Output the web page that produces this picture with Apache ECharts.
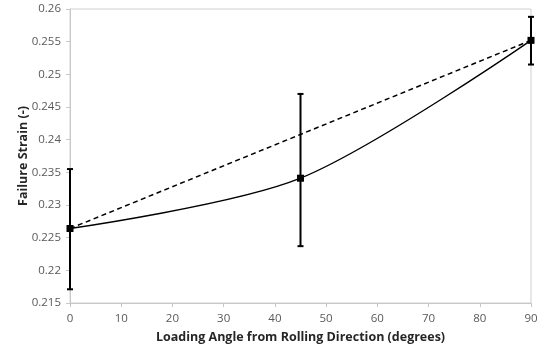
<!DOCTYPE html>
<html><head><meta charset="utf-8">
<script src="https://cdn.jsdelivr.net/npm/echarts@6/dist/echarts.min.js"></script>
<style>html,body{margin:0;padding:0;background:#fff}#c{width:541px;height:349px}</style>
</head><body><div id="c"></div>
<script>
const angles = [0, 45, 90];
const strain = [0.2264, 0.2341, 0.2552];
const errLow = [0.2171, 0.2237, 0.2515];
const errHigh = [0.2355, 0.2470, 0.2588];
const trendAngles = [0, 90];
const trendStrain = [0.2264, 0.2552];

const chart = echarts.init(document.getElementById('c'));
const font = '"Open Sans", "Liberation Sans", sans-serif';
chart.setOption({
  animation: false,
  grid: {left: 70, right: 10, top: 9, bottom: 46, show: true, borderColor: '#d0d0d0', borderWidth: 1},
  xAxis: {
    type: 'value', min: 0, max: 90, interval: 10,
    name: 'Loading Angle from Rolling Direction (degrees)', nameLocation: 'middle', nameGap: 28,
    nameTextStyle: {fontFamily: font, fontWeight: 'bold', fontSize: 12.5, color: '#262626'},
    axisLine: {show: true, lineStyle: {color: '#c8c8c8'}},
    axisTick: {show: true, length: 4, lineStyle: {color: '#c8c8c8'}},
    axisLabel: {fontFamily: font, fontSize: 11.5, color: '#595959', margin: 10},
    splitLine: {show: false}
  },
  yAxis: {
    type: 'value', min: 0.215, max: 0.26, interval: 0.005,
    name: 'Failure Strain (-)', nameLocation: 'middle', nameGap: 40, nameMoveOverlap: false,
    nameTextStyle: {fontFamily: font, fontWeight: 'bold', fontSize: 12.5, color: '#262626'},
    axisLine: {show: true, lineStyle: {color: '#c8c8c8'}},
    axisTick: {show: true, length: 4, lineStyle: {color: '#c8c8c8'}},
    axisLabel: {fontFamily: font, fontSize: 11.5, color: '#595959', margin: 9,
      formatter: v => String(parseFloat(v.toFixed(3)))},
    splitLine: {show: false}
  },
  series: [
    {
      type: 'line', data: trendAngles.map((a, i) => [a, trendStrain[i]]),
      symbol: 'none', lineStyle: {color: '#000', width: 1.5, type: [5, 3.5]}, z: 2
    },
    {
      type: 'line', data: angles.map((a, i) => [a, strain[i]]), smooth: 0.3,
      symbol: 'rect', symbolSize: 7, itemStyle: {color: '#000'},
      lineStyle: {color: '#000', width: 1.4}, z: 3
    },
    {
      type: 'custom', z: 4,
      data: angles.map((a, i) => [a, errLow[i], errHigh[i]]),
      renderItem: function (params, api) {
        const x = api.value(0);
        const lo = api.coord([x, api.value(1)]);
        const hi = api.coord([x, api.value(2)]);
        const w = 3;
        const st = {stroke: '#000', lineWidth: 2};
        return {type: 'group', children: [
          {type: 'line', shape: {x1: lo[0], y1: lo[1], x2: hi[0], y2: hi[1]}, style: st},
          {type: 'line', shape: {x1: lo[0] - w, y1: lo[1], x2: lo[0] + w, y2: lo[1]}, style: st},
          {type: 'line', shape: {x1: hi[0] - w, y1: hi[1], x2: hi[0] + w, y2: hi[1]}, style: st}
        ]};
      }
    }
  ]
});
</script></body></html>
